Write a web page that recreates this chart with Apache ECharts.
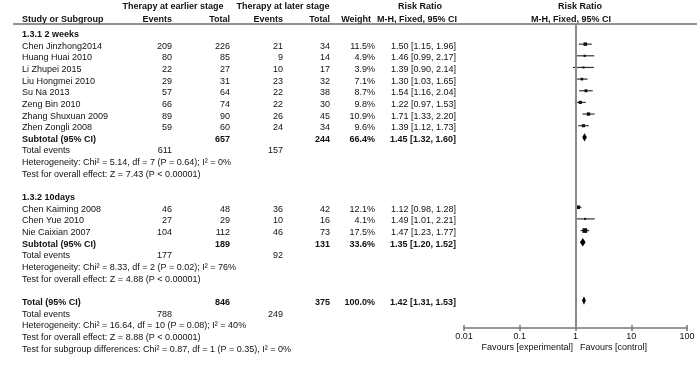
<!DOCTYPE html>
<html>
<head>
<meta charset="utf-8">
<script src="https://cdn.jsdelivr.net/npm/echarts@6/dist/echarts.min.js"></script>
<style>
  html, body { margin: 0; padding: 0; background: #fff; }
  #main { width: 700px; height: 365px; }
</style>
</head>
<body>
<div id="main"></div>
<script>
// ---- data ----
var group1Studies = ['Chen Jinzhong2014', 'Huang Huai 2010', 'Li Zhupei 2015', 'Liu Hongmei 2010',
                     'Su Na 2013', 'Zeng Bin 2010', 'Zhang Shuxuan 2009', 'Zhen Zongli 2008'];
var group1EarlyEvents = [209, 80, 22, 29, 57, 66, 89, 59];
var group1EarlyTotal = [226, 85, 27, 31, 64, 74, 90, 60];
var group1LateEvents = [21, 9, 10, 23, 22, 22, 26, 24];
var group1LateTotal = [34, 14, 17, 32, 38, 30, 45, 34];
var group1Weight = [11.5, 4.9, 3.9, 7.1, 8.7, 9.8, 10.9, 9.6];
var group1RR = [1.50, 1.46, 1.39, 1.30, 1.54, 1.22, 1.71, 1.39];
var group1Low = [1.15, 0.99, 0.90, 1.03, 1.16, 0.97, 1.33, 1.12];
var group1High = [1.96, 2.17, 2.14, 1.65, 2.04, 1.53, 2.20, 1.73];

var group2Studies = ['Chen Kaiming 2008', 'Chen Yue 2010', 'Nie Caixian 2007'];
var group2EarlyEvents = [46, 27, 104];
var group2EarlyTotal = [48, 29, 112];
var group2LateEvents = [36, 10, 46];
var group2LateTotal = [42, 16, 73];
var group2Weight = [12.1, 4.1, 17.5];
var group2RR = [1.12, 1.49, 1.47];
var group2Low = [0.98, 1.01, 1.23];
var group2High = [1.28, 2.21, 1.77];

var groupTitles = ['1.3.1 2 weeks', '1.3.2 10days'];
var summaryLabels = ['Subtotal (95% CI)', 'Subtotal (95% CI)', 'Total (95% CI)'];
var summaryEarlyTotal = [657, 189, 846];
var summaryLateTotal = [244, 131, 375];
var summaryWeight = [66.4, 33.6, 100.0];
var summaryRR = [1.45, 1.35, 1.42];
var summaryLow = [1.32, 1.20, 1.31];
var summaryHigh = [1.60, 1.52, 1.53];
var summaryEarlyEvents = [611, 177, 788];
var summaryLateEvents = [157, 92, 249];
var heterogeneityTexts = [
  'Heterogeneity: Chi² = 5.14, df = 7 (P = 0.64); I² = 0%',
  'Heterogeneity: Chi² = 8.33, df = 2 (P = 0.02); I² = 76%',
  'Heterogeneity: Chi² = 16.64, df = 10 (P = 0.08); I² = 40%'
];
var overallEffectTexts = [
  'Test for overall effect: Z = 7.43 (P < 0.00001)',
  'Test for overall effect: Z = 4.88 (P < 0.00001)',
  'Test for overall effect: Z = 8.88 (P < 0.00001)'
];
var subgroupText = 'Test for subgroup differences: Chi² = 0.87, df = 1 (P = 0.35), I² = 0%';
var axisTicks = [0.01, 0.1, 1, 10, 100];

// ---- layout helpers ----
var FONT = '"Liberation Sans", Arial, sans-serif';
var ROW0 = 32.5, ROWH = 11.65;
function rowPx(k) { return ROW0 + ROWH * k + 2; }
function fmt(v) { return v.toFixed(2); }
function ciText(r, l, h) { return fmt(r) + ' [' + fmt(l) + ', ' + fmt(h) + ']'; }

var texts = [];
function txt(s, x, y, align, bold) {
  texts.push({
    type: 'text', silent: true,
    style: {
      text: String(s), x: x, y: y, textAlign: align || 'left', textVerticalAlign: 'middle',
      font: (bold ? 'bold ' : '') + '9px ' + FONT, fill: '#111'
    }
  });
}

// column anchors
var X_NAME = 22, X_EV1 = 172, X_TOT1 = 230, X_EV2 = 283, X_TOT2 = 330, X_W = 375, X_CI = 456;

// headers
txt('Therapy at earlier stage', 173, 7, 'center', true);
txt('Therapy at later stage', 283, 7, 'center', true);
txt('Risk Ratio', 420, 7, 'center', true);
txt('Risk Ratio', 580, 7, 'center', true);
txt('Study or Subgroup', X_NAME, 20, 'left', true);
txt('Events', X_EV1, 20, 'right', true);
txt('Total', X_TOT1, 20, 'right', true);
txt('Events', X_EV2, 20, 'right', true);
txt('Total', X_TOT2, 20, 'right', true);
txt('Weight', 371, 20, 'right', true);
txt('M-H, Fixed, 95% CI', 457, 20, 'right', true);
txt('M-H, Fixed, 95% CI', 571, 20, 'center', true);

var studyPoints = [];   // [rr, row, low, high, weight]
var diamondPoints = []; // [rr, row, low, high]

function addGroup(g, names, ee, et, le, lt, w, rr, lo, hi, startRow) {
  txt(groupTitles[g], X_NAME, rowPx(startRow), 'left', true);
  for (var i = 0; i < names.length; i++) {
    var k = startRow + 1 + i, y = rowPx(k);
    txt(names[i], X_NAME, y);
    txt(ee[i], X_EV1, y, 'right');
    txt(et[i], X_TOT1, y, 'right');
    txt(le[i], X_EV2, y, 'right');
    txt(lt[i], X_TOT2, y, 'right');
    txt(w[i].toFixed(1) + '%', X_W, y, 'right');
    txt(ciText(rr[i], lo[i], hi[i]), X_CI, y, 'right');
    studyPoints.push([rr[i], k, lo[i], hi[i], w[i]]);
  }
  return startRow + 1 + names.length;
}

function addSummary(s, k) {
  var y = rowPx(k);
  txt(summaryLabels[s], X_NAME, y, 'left', true);
  txt(summaryEarlyTotal[s], X_TOT1, y, 'right', true);
  txt(summaryLateTotal[s], X_TOT2, y, 'right', true);
  txt(summaryWeight[s].toFixed(1) + '%', X_W, y, 'right', true);
  txt(ciText(summaryRR[s], summaryLow[s], summaryHigh[s]), X_CI, y, 'right', true);
  diamondPoints.push([summaryRR[s], k, summaryLow[s], summaryHigh[s]]);
  txt('Total events', X_NAME, rowPx(k + 1));
  txt(summaryEarlyEvents[s], X_EV1, rowPx(k + 1), 'right');
  txt(summaryLateEvents[s], X_EV2, rowPx(k + 1), 'right');
  txt(heterogeneityTexts[s], X_NAME, rowPx(k + 2));
  txt(overallEffectTexts[s], X_NAME, rowPx(k + 3));
  return k + 4;
}

var r = addGroup(0, group1Studies, group1EarlyEvents, group1EarlyTotal, group1LateEvents,
                 group1LateTotal, group1Weight, group1RR, group1Low, group1High, 0);
r = addSummary(0, r) + 1;
r = addGroup(1, group2Studies, group2EarlyEvents, group2EarlyTotal, group2LateEvents,
             group2LateTotal, group2Weight, group2RR, group2Low, group2High, r);
r = addSummary(1, r) + 1;
r = addSummary(2, r);
txt(subgroupText, X_NAME, rowPx(r));

txt('Favours [experimental]', 573, 348, 'right');
txt('Favours [control]', 580, 348, 'left');

// header rule
texts.push({
  type: 'line', silent: true,
  shape: { x1: 13, y1: 24, x2: 697, y2: 24 },
  style: { stroke: '#6e6e6e', lineWidth: 1.5 }
});

var GRID_TOP = 24, GRID_BOTTOM_PX = 328;
var yMin = -(ROW0 - GRID_TOP) / ROWH;
var yMax = yMin + (GRID_BOTTOM_PX - GRID_TOP) / ROWH;

var chart = echarts.init(document.getElementById('main'), null, { renderer: 'canvas' });

var option = {
  animation: false,
  backgroundColor: '#fff',
  textStyle: { fontFamily: FONT },
  grid: { left: 464, right: 13, top: GRID_TOP, bottom: 365 - GRID_BOTTOM_PX, containLabel: false },
  xAxis: [{
    type: 'log', logBase: 10, min: 0.01, max: 100, position: 'bottom',
    axisLine: { show: true, onZero: false, lineStyle: { color: '#777', width: 1.5 } },
    axisTick: { show: true, length: 3, inside: false, lineStyle: { color: '#777', width: 1.5 } },
    axisLabel: {
      show: true, fontSize: 9, color: '#111', margin: 4, fontFamily: FONT,
      formatter: function (v) {
        for (var i = 0; i < axisTicks.length; i++) {
          if (Math.abs(v - axisTicks[i]) / axisTicks[i] < 1e-6) return String(axisTicks[i]);
        }
        return '';
      }
    },
    splitLine: { show: false }
  }, {
    type: 'log', logBase: 10, min: 0.01, max: 100, position: 'bottom',
    axisLine: { show: false, onZero: false },
    axisTick: { show: true, length: 3, inside: true, lineStyle: { color: '#777', width: 1.5 } },
    axisLabel: { show: false },
    splitLine: { show: false }
  }],
  yAxis: {
    type: 'value', inverse: true, min: yMin, max: yMax, show: false
  },
  graphic: texts,
  series: [{
    type: 'custom',
    silent: true,
    clip: false,
    data: studyPoints,
    renderItem: function (params, api) {
      var c = api.coord([api.value(0), api.value(1)]);
      var lo = api.coord([api.value(2), api.value(1)]);
      var hi = api.coord([api.value(3), api.value(1)]);
      var s = 1.2 + 0.2 * api.value(4);
      return {
        type: 'group',
        children: [{
          type: 'line',
          shape: { x1: lo[0], y1: c[1], x2: hi[0], y2: c[1] },
          style: { stroke: '#333', lineWidth: 1.2 }
        }, {
          type: 'rect',
          shape: { x: c[0] - s / 2, y: c[1] - s / 2, width: s, height: s },
          style: { fill: '#111' }
        }]
      };
    },
    markLine: {
      silent: true, symbol: 'none', label: { show: false },
      lineStyle: { color: '#8a8a8a', width: 2, type: 'solid' },
      data: [[{ coord: [1, yMin] }, { coord: [1, yMax] }]]
    }
  }, {
    type: 'custom',
    silent: true,
    clip: false,
    data: diamondPoints,
    renderItem: function (params, api) {
      var c = api.coord([api.value(0), api.value(1)]);
      var lo = api.coord([api.value(2), api.value(1)]);
      var hi = api.coord([api.value(3), api.value(1)]);
      var h = 4.2;
      return {
        type: 'polygon',
        shape: { points: [[lo[0], c[1]], [c[0], c[1] - h], [hi[0], c[1]], [c[0], c[1] + h]] },
        style: { fill: '#000' }
      };
    }
  }]
};

chart.setOption(option);
</script>
</body>
</html>
